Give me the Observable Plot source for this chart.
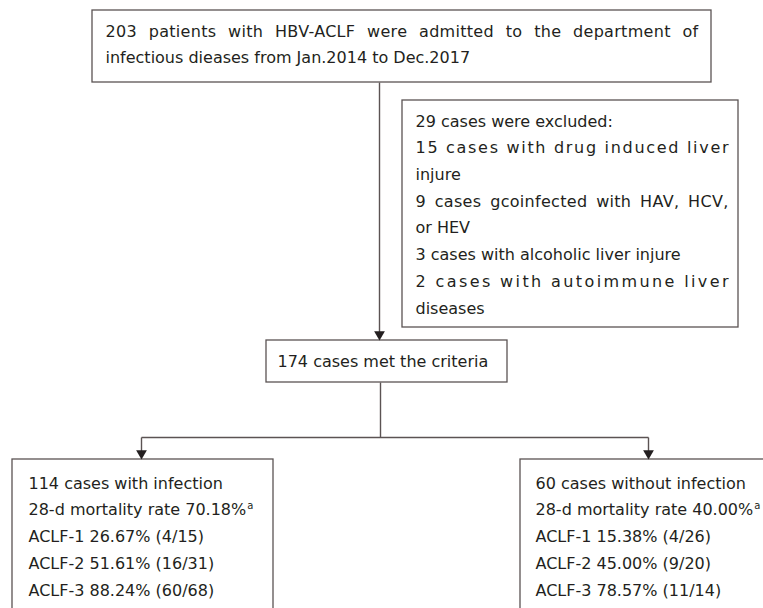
<!DOCTYPE html>
<html>
<head>
<meta charset="utf-8">
<script src="https://cdn.jsdelivr.net/npm/d3@7"></script>
<script src="https://cdn.jsdelivr.net/npm/@observablehq/plot@0.6"></script>
<style>
  html, body { margin: 0; padding: 0; background: #fff; }
  #chart svg { display: block; }
</style>
</head>
<body>
<div id="chart"></div>
<script>
// ---- content (text of the flowchart) ----
const admittedLines = [
  "203 patients with HBV-ACLF were admitted to the department of",
  "infectious dieases from Jan.2014 to Dec.2017"
];
const excludedLines = [
  "29 cases were excluded:",
  "15 cases with drug induced liver",
  "injure",
  "9 cases gcoinfected with HAV, HCV,",
  "or HEV",
  "3 cases with alcoholic liver injure",
  "2 cases with autoimmune liver",
  "diseases"
];
const criteriaLines = ["174 cases met the criteria"];
const infectionLines = [
  "114 cases with infection",
  "28-d mortality rate 70.18%",
  "ACLF-1 26.67% (4/15)",
  "ACLF-2 51.61% (16/31)",
  "ACLF-3 88.24% (60/68)"
];
const noInfectionLines = [
  "60 cases without infection",
  "28-d mortality rate 40.00%",
  "ACLF-1 15.38% (4/26)",
  "ACLF-2 45.00% (9/20)",
  "ACLF-3 78.57% (11/14)"
];
const footnoteMark = "a";
// lines justified in the original: word-spaced ones and letter-spaced ones
const wordJustified = [admittedLines[0], excludedLines[3]];
const letterJustified = [excludedLines[1], excludedLines[6]];

// ---- layout ----
const W = 763, H = 608;
const layout = [
  {lines: admittedLines,   box: [92, 711, 10, 82],   tx: 105, ty: 31,  lh: 26.8, right: 698},
  {lines: excludedLines,   box: [402, 738, 100, 327], tx: 415, ty: 121, lh: 26.7, right: 728},
  {lines: criteriaLines,   box: [266, 507, 340, 382], tx: 277, ty: 361, lh: 26.6, right: 500},
  {lines: infectionLines,  box: [12, 273, 459, 616],  tx: 28,  ty: 483, lh: 26.8, right: 265},
  {lines: noInfectionLines,box: [520, 780, 459, 616], tx: 535, ty: 483, lh: 26.8, right: 770}
];
const boxes = layout.map(d => ({x1: d.box[0], x2: d.box[1], y1: d.box[2], y2: d.box[3]}));
const texts = layout.flatMap(d => d.lines.map((t, i) => ({
  text: t, x: d.tx, y: d.ty + i * d.lh, right: d.right
})));
const connectors = [
  {x1: 379, y1: 82, x2: 379, y2: 334},
  {x1: 380, y1: 382, x2: 380, y2: 437},
  {x1: 141, y1: 437, x2: 648, y2: 437},
  {x1: 141, y1: 437, x2: 141, y2: 454},
  {x1: 648, y1: 437, x2: 648, y2: 454}
];
const arrowTips = [
  {x: 379, y: 340},
  {x: 141, y: 459},
  {x: 648, y: 459}
];

const ink = "#231f20";
const lineColor = "#5b5353";

const chart = Plot.plot({
  width: W,
  height: H,
  margin: 0,
  x: {domain: [0, W], range: [0, W], axis: null},
  y: {domain: [0, H], range: [0, H], axis: null},
  style: {background: "#fff", fontFamily: "'DejaVu Sans', sans-serif"},
  marks: [
    Plot.link(connectors, {x1: "x1", y1: "y1", x2: "x2", y2: "y2", stroke: lineColor, strokeWidth: 1.4}),
    Plot.rect(boxes, {x1: "x1", x2: "x2", y1: "y1", y2: "y2", fill: "#fff", stroke: lineColor, strokeWidth: 1.3}),
    Plot.dot(arrowTips, {x: "x", y: d => d.y - 6.2, symbol: "triangle", r: 4, rotate: 180, fill: ink, stroke: "none"}),
    Plot.text(texts, {x: "x", y: "y", text: "text", textAnchor: "start", lineAnchor: "middle",
      fontSize: 16, fill: ink})
  ]
});

document.getElementById("chart").appendChild(chart);

// justify stretched lines and add footnote superscripts
const byText = new Map(texts.map(d => [d.text, d]));
d3.select(chart).selectAll("text").each(function() {
  const t = this.textContent;
  const d = byText.get(t);
  if (!d) return;
  const target = d.right - d.x;
  if (letterJustified.includes(t)) {
    this.setAttribute("textLength", target);
    this.setAttribute("lengthAdjust", "spacing");
  } else if (wordJustified.includes(t)) {
    this.setAttribute("letter-spacing", "0.3");
    const natural = this.getComputedTextLength();
    const spaces = (t.match(/ /g) || []).length;
    if (spaces > 0 && natural < target) {
      this.setAttribute("word-spacing", ((target - natural) / spaces).toFixed(2));
    }
  }
  if (t.startsWith("28-d mortality rate")) {
    const ts = document.createElementNS("http://www.w3.org/2000/svg", "tspan");
    ts.setAttribute("font-size", "10");
    ts.setAttribute("dy", "-6");
    ts.setAttribute("dx", "1");
    ts.textContent = footnoteMark;
    this.appendChild(ts);
  }
});
</script>
</body>
</html>
